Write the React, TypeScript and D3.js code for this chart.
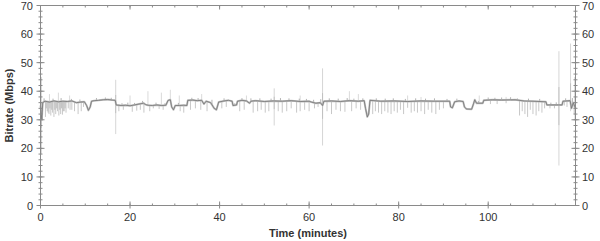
import React from "react";
import * as d3 from "d3";

// Mean bitrate line (time in minutes, Mbps)
const meanTimes = [0, 0.3, 0.5, 1, 2, 3, 4, 5, 6, 7, 8, 9, 9.8, 10.3, 10.7, 11.1, 11.4, 12, 13, 14, 15, 16, 16.7, 16.9, 18, 19, 20, 21, 22, 23, 23.5, 24, 25, 26, 27, 28, 28.5, 29, 29.3, 29.7, 30.1, 31, 32, 32.7, 32.9, 34, 35, 36, 36.5, 37, 38, 38.8, 39.3, 39.8, 41, 42, 42.8, 43, 43.8, 44, 45, 46, 46.7, 47, 48, 50, 52, 54, 56, 58, 60, 60.5, 61.5, 62.5, 63, 63.3, 65, 67, 69, 71, 72.3, 72.6, 73, 73.3, 73.6, 76, 79, 82, 85, 88, 91.4, 91.6, 92, 92.5, 93.5, 94.4, 94.7, 95.1, 96.3, 96.7, 97, 97.4, 98.8, 99, 101, 103, 106, 108, 110, 112.9, 113.1, 116.5, 116.7, 118.3, 118.6, 119, 119.5];
const meanValues = [35, 30, 36, 36.5, 36.2, 36.6, 36.3, 36.5, 36.4, 36.6, 36.0, 36.2, 36.3, 35, 33.3, 34.5, 36.5, 36.7, 36.8, 37, 37.1, 36.9, 36.8, 35.2, 35, 35.1, 34.9, 35.2, 35.5, 35.8, 35.3, 35.1, 35, 35.2, 35, 35.1, 36.8, 37, 34.5, 33.5, 35, 35, 35.1, 35, 36.8, 36.9, 36.7, 36.8, 35.5, 36.5, 36, 34, 33.5, 36.2, 36.6, 36.8, 36.5, 35, 35.2, 36.5, 36.8, 36.6, 35.8, 36.5, 36.7, 36.4, 36.6, 36.5, 36.7, 36.4, 36.5, 36.2, 35.8, 36.0, 35, 36.5, 36.6, 36.4, 36.7, 36.5, 36.7, 34, 31, 32, 36.8, 36.5, 36.6, 36.4, 36.6, 36.5, 36.5, 34.5, 34.2, 36.3, 36.6, 36.4, 34.5, 33.8, 33.7, 35.5, 37, 35.8, 35.8, 36.8, 37, 36.9, 37, 36.6, 36.5, 36.3, 35.2, 35.2, 36.5, 36.7, 34, 36, 34];

// Downward spikes (time, lowest value)
const dipTimes = [1.1, 1.3, 1.5, 1.7, 1.9, 2.1, 2.3, 2.5, 2.7, 3.0, 3.2, 3.4, 3.6, 3.8, 4.1, 4.3, 4.5, 4.7, 4.9, 5.1, 5.3, 5.5, 5.7, 6.2, 6.6, 7, 7.6, 8.4, 9.1, 9.6, 17.5, 18.5, 20.5, 21.5, 22.3, 23.1, 24.4, 25.2, 26.5, 27.4, 31.2, 32, 33.5, 34.6, 35.8, 37.2, 40.5, 41.5, 44.5, 45.5, 47.5, 48.5, 49.3, 50.2, 51, 53.1, 54, 55, 56, 57.2, 58, 59, 60, 61.2, 62, 64, 65, 66, 67, 68, 69.5, 70.5, 71.5, 74.2, 74.8, 75.5, 76.2, 76.9, 77.6, 78.3, 79, 79.7, 80.4, 81.1, 82, 82.8, 83.5, 84.2, 85, 85.8, 86.6, 87.4, 88.3, 89.1, 90, 100.5, 102, 104, 107, 107.6, 108.2, 108.8, 109.4, 110, 110.7, 111.3, 112, 112.6, 113.8, 114.8, 117, 117.6, 119.2, 119.4];
const dipValues = [31, 34, 33, 32.5, 32, 34, 31.5, 33.5, 32.5, 31, 33.5, 32, 34, 33, 31.5, 33.5, 32, 34, 31.8, 33, 33, 34, 32.5, 34, 33.5, 33.5, 33, 32, 33, 34.5, 33, 33.5, 32.8, 33.2, 33.5, 32.5, 33, 34, 33.8, 33.5, 33, 32.5, 33.5, 34, 33.5, 33, 34, 34.5, 33, 33.5, 32.5, 33, 33.5, 32.5, 33, 33, 32.5, 33, 34, 32.5, 33, 33.5, 33, 34, 34.5, 33, 32, 33.5, 33, 32.8, 33, 34, 33.5, 32, 33, 32.5, 32, 33, 32.5, 32, 33, 32.5, 33.5, 32, 34.2, 32.5, 33, 32.5, 33, 32, 33.5, 32.5, 32, 33.5, 34, 35.5, 35.5, 35.8, 31.5, 33, 32, 31, 33.5, 32, 31.5, 33, 32.5, 34, 34, 34, 35, 34.5, 32, 30];

// Small wiggles around the line (time, value)
const jitterTimes = [0.8, 2.8, 4.6, 6.9, 8.8, 12.5, 14.5, 15.8, 18.2, 19.5, 21, 22.8, 25.8, 27.8, 30.8, 33.8, 35.2, 38.3, 41, 43.4, 45, 47, 49, 51.5, 53.6, 55.5, 57.8, 59.4, 61, 62.6, 64.5, 66.5, 68.5, 70, 72, 75, 77, 78.8, 81.5, 83.8, 86, 88, 90.8, 93, 97.8, 100, 101.5, 103, 105, 106.5, 109, 111.5, 114, 115.2, 117.3, 118.8];
const jitterValues = [37.5, 37.4, 37.6, 37.3, 37.1, 37.6, 37.8, 37.7, 35.8, 36.0, 35.9, 36.6, 36.0, 35.8, 35.9, 37.7, 37.6, 37.0, 37.5, 35.8, 37.6, 37.5, 37.5, 37.4, 37.6, 37.5, 37.4, 37.3, 37.0, 37.2, 37.5, 37.4, 37.6, 37.4, 37.5, 37.5, 37.4, 37.5, 37.3, 37.5, 37.4, 37.5, 37.3, 37.4, 36.6, 37.8, 37.7, 37.8, 37.9, 37.5, 37.4, 37.3, 36.0, 36.1, 37.5, 37.6];

// Faint upward spikes (time, highest value)
const riseTimes = [2, 4, 6.5, 20, 24, 27, 29, 31, 36, 46, 58, 69, 71, 82, 85, 98, 104, 119.3];
const riseValues = [39, 39.5, 38.5, 38.5, 40, 39.5, 40.5, 38.5, 39, 38.5, 38.5, 40, 39, 38.5, 38, 38.5, 38, 45];

// Large transient spikes (time, low, high)
const spikeTimes = [0.2, 16.8, 52.2, 63, 115.8, 118.4];
const spikeLows = [18, 25, 28, 21, 14, 33];
const spikeHighs = [45, 44, 41, 48, 54, 56.7];

const xTicks = [0, 20, 40, 60, 80, 100];
const yTicks = [0, 10, 20, 30, 40, 50, 60, 70];

const W = 600;
const H = 241;

export default function App() {
  const x = d3.scaleLinear().domain([0, 119.5]).range([40.5, 575.5]);
  const y = d3.scaleLinear().domain([0, 70]).range([205.5, 5.5]);
  const meanAt = (t: number) => {
    const i = d3.bisectLeft(meanTimes, t);
    if (i <= 0) return meanValues[0];
    if (i >= meanTimes.length) return meanValues[meanValues.length - 1];
    const t0 = meanTimes[i - 1], t1 = meanTimes[i];
    const f = (t - t0) / (t1 - t0);
    return meanValues[i - 1] + f * (meanValues[i] - meanValues[i - 1]);
  };
  const line = d3
    .line<number>()
    .x((_, i) => x(meanTimes[i]))
    .y((d) => y(d));
  const meanPath = line(meanValues) || "";

  const axisColor = "#8a8a8a";
  const textColor = "#333";
  const font = "'Liberation Sans', Arial, sans-serif";
  const [x0, x1] = x.range();
  const [yb, yt] = y.range();
  const xMinor = d3.range(0, 120, 5);
  const yMinor = d3.range(0, 71, 2);

  return (
    <svg width={W} height={H} style={{ position: "absolute", left: 0, top: 0 }} fontFamily={font}>
      <rect width={W} height={H} fill="#fff" />
      {riseTimes.map((t, i) => (
        <line key={"r" + i} x1={x(t)} x2={x(t)} y1={y(riseValues[i])} y2={y(meanAt(t))} stroke="#d0d0d0" strokeWidth={0.8} />
      ))}
      {spikeTimes.map((t, i) => (
        <line key={"s" + i} x1={x(t)} x2={x(t)} y1={y(spikeHighs[i])} y2={y(spikeLows[i])} stroke="#d6d6d6" strokeWidth={1} />
      ))}
      {spikeTimes.map((t, i) => (
        <line key={"s2" + i} x1={x(t)} x2={x(t)} y1={y((spikeHighs[i] + meanAt(t) * 2) / 3)} y2={y((spikeLows[i] + meanAt(t) * 2) / 3)} stroke="#b4b4b4" strokeWidth={0.7} />
      ))}
      {dipTimes.map((t, i) => (
        <line key={"d" + i} x1={x(t)} x2={x(t)} y1={y(meanAt(t))} y2={y(dipValues[i])} stroke="#a2a2a2" strokeWidth={0.6} />
      ))}
      {jitterTimes.map((t, i) => (
        <line key={"j" + i} x1={x(t)} x2={x(t)} y1={y(meanAt(t))} y2={y(jitterValues[i])} stroke="#a0a0a0" strokeWidth={0.8} />
      ))}
      <path d={meanPath} fill="none" stroke="#c0c0c0" strokeWidth={2} strokeLinejoin="round" />
      <path d={meanPath} fill="none" stroke="#747474" strokeWidth={0.8} strokeLinejoin="round" />

      <rect x={x0} y={yt} width={x1 - x0} height={yb - yt} fill="none" stroke={axisColor} strokeWidth={1} />
      {yMinor.map((v) => (
        <g key={"ym" + v}>
          <line x1={x0 - 2} x2={x0 + 2} y1={y(v)} y2={y(v)} stroke={axisColor} />
          <line x1={x1 - 2} x2={x1 + 2} y1={y(v)} y2={y(v)} stroke={axisColor} />
        </g>
      ))}
      {yTicks.map((v) => (
        <g key={"y" + v}>
          <line x1={x0 - 4} x2={x0 + 4} y1={y(v)} y2={y(v)} stroke={axisColor} />
          <line x1={x1 - 4} x2={x1 + 4} y1={y(v)} y2={y(v)} stroke={axisColor} />
          <text x={33} y={y(v) + 4} textAnchor="end" fontSize={11} fill={textColor}>{v}</text>
          <text x={582} y={y(v) + 4} textAnchor="start" fontSize={11} fill={textColor}>{v}</text>
        </g>
      ))}
      {xMinor.map((t) => (
        <g key={"xm" + t}>
          <line x1={x(t)} x2={x(t)} y1={yb} y2={yb - 2} stroke={axisColor} />
          <line x1={x(t)} x2={x(t)} y1={yt} y2={yt + 2} stroke={axisColor} />
        </g>
      ))}
      {xTicks.map((t) => (
        <g key={"x" + t}>
          <line x1={x(t)} x2={x(t)} y1={yb + 3} y2={yb - 4} stroke={axisColor} />
          <line x1={x(t)} x2={x(t)} y1={yt} y2={yt + 4} stroke={axisColor} />
          <text x={x(t)} y={221} textAnchor="middle" fontSize={11} fill={textColor}>{t}</text>
        </g>
      ))}
      <text x={(x0 + x1) / 2} y={237} textAnchor="middle" fontSize={11} fontWeight="bold" fill={textColor}>Time (minutes)</text>
      <text transform={`translate(13, ${y(35)}) rotate(-90)`} textAnchor="middle" fontSize={11} fontWeight="bold" fill={textColor}>Bitrate (Mbps)</text>
    </svg>
  );
}
